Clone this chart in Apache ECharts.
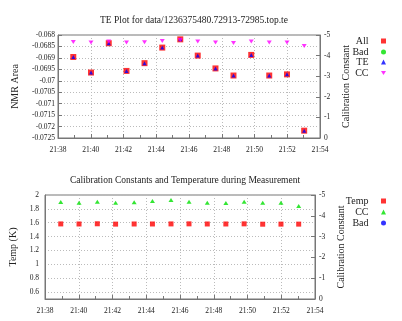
<!DOCTYPE html>
<html>
<head>
<meta charset="utf-8">
<script src="https://cdn.jsdelivr.net/npm/echarts@6/dist/echarts.min.js"></script>
<style>
html, body { margin: 0; padding: 0; background: #fff; }
#chart { width: 402px; height: 321px; }
</style>
</head>
<body>
<div id="chart"></div>
<script>
// measurement times
var times = ['21:38:56', '21:40:01', '21:41:06', '21:42:11', '21:43:17', '21:44:22', '21:45:28',
             '21:46:32', '21:47:37', '21:48:43', '21:49:48', '21:50:54', '21:51:59', '21:53:02'];
// NMR area (All and TE are the same points)
var nmrArea = [-0.06896, -0.06964, -0.06836, -0.06957, -0.06923, -0.06855, -0.06819,
               -0.0689, -0.06946, -0.06977, -0.06887, -0.06977, -0.06972, -0.07218];
// calibration constant
var calConst = [-4.66, -4.63, -4.68, -4.63, -4.65, -4.71, -4.76,
                -4.68, -4.63, -4.61, -4.68, -4.63, -4.63, -4.47];
// temperature (K)
var temp = [1.583, 1.582, 1.585, 1.580, 1.582, 1.582, 1.583,
            1.584, 1.582, 1.582, 1.584, 1.579, 1.580, 1.580];
var badPoints = [];

var xTicks = {min: '21:38', max: '21:54', step: 2};

function toMin(s) {
    var p = s.split(':');
    return (+p[0]) * 60 + (+p[1]) + (p.length > 2 ? (+p[2]) / 60 : 0);
}
function fmtTime(v) {
    var h = Math.floor(v / 60), m = Math.round(v - h * 60);
    return h + ':' + (m < 10 ? '0' + m : m);
}
function pairs(vals) {
    return vals.map(function (v, i) { return [toMin(times[i]), v]; });
}

var serif = 'Liberation Serif';
var lineCol = '#777';
var textCol = '#222';
var gridLine = {show: true, lineStyle: {color: '#bbb', type: [1, 2], width: 1}};
var downTri = 'path://M0,0L10,0L5,8Z';

function xAxis(gi) {
    return {
        type: 'value', gridIndex: gi,
        min: toMin(xTicks.min), max: toMin(xTicks.max), interval: xTicks.step,
        axisLine: {show: true, onZero: false, lineStyle: {color: lineCol}},
        axisTick: {inside: true, length: 4, lineStyle: {color: lineCol}},
        minorTick: {show: true, splitNumber: 2, length: 3, lineStyle: {color: lineCol}},
        axisLabel: {formatter: fmtTime, color: textCol, fontFamily: serif, fontSize: 7.5, margin: 8},
        splitLine: gridLine
    };
}
function rightAxis(gi) {
    return {
        type: 'value', gridIndex: gi, position: 'right',
        min: -5, max: 0, interval: 1, inverse: true,
        name: 'Calibration Constant', nameLocation: 'middle', nameRotate: 90, nameGap: 18,
        nameTextStyle: {color: textCol, fontFamily: serif, fontSize: 10},
        axisLine: {show: true, lineStyle: {color: lineCol}},
        axisTick: {inside: true, length: 4, lineStyle: {color: lineCol}},
        axisLabel: {color: textCol, fontFamily: serif, fontSize: 7.5, margin: 4},
        splitLine: {show: false}
    };
}
function legendItem(name, top, icon) {
    var item = {name: name};
    if (icon) item.icon = icon;
    return {
        data: [item], orient: 'vertical', right: 11, top: top, align: 'right',
        itemWidth: 5, itemHeight: 5, selectedMode: false,
        formatter: function (n) { return n.trim() + '   '; },
        textStyle: {color: textCol, fontFamily: serif, fontSize: 10}
    };
}

var dom = document.getElementById('chart');
var myChart = echarts.init(dom, null, {renderer: 'canvas'});
var option = {
    animation: false,
    backgroundColor: '#fff',
    title: [
        {text: 'TE Plot for data/1236375480.72913-72985.top.te', left: 189, top: 10, textAlign: 'center',
         textStyle: {color: textCol, fontFamily: serif, fontSize: 9.5, fontWeight: 'normal'}},
        {text: 'Calibration Constants and Temperature during Measurement', left: 180, top: 170, textAlign: 'center',
         textStyle: {color: textCol, fontFamily: serif, fontSize: 9.5, fontWeight: 'normal'}}
    ],
    grid: [
        {left: 58, right: 82, top: 35, height: 103, show: true, borderColor: lineCol, borderWidth: 1, backgroundColor: 'transparent'},
        {left: 45, right: 87, top: 195, height: 104, show: true, borderColor: lineCol, borderWidth: 1, backgroundColor: 'transparent'}
    ],
    legend: [
        legendItem('All', 31), legendItem('Bad', 42), legendItem('TE', 52), legendItem('CC', 63, downTri),
        legendItem('Temp', 191), legendItem('CC ', 202), legendItem('Bad ', 213)
    ],
    xAxis: [xAxis(0), xAxis(1)],
    yAxis: [
        {
            type: 'value', gridIndex: 0, min: -0.0725, max: -0.068, interval: 0.0005,
            name: 'NMR Area', nameLocation: 'middle', nameRotate: 90, nameGap: 38,
            nameTextStyle: {color: textCol, fontFamily: serif, fontSize: 10},
            axisLine: {show: true, lineStyle: {color: lineCol}},
            axisTick: {inside: true, length: 4, lineStyle: {color: lineCol}},
            axisLabel: {color: textCol, fontFamily: serif, fontSize: 7.5, margin: 3},
            splitLine: gridLine
        },
        rightAxis(0),
        {
            type: 'value', gridIndex: 1, min: 0.5, max: 2, interval: 0.1,
            name: 'Temp (K)', nameLocation: 'middle', nameRotate: 90, nameGap: 26,
            nameTextStyle: {color: textCol, fontFamily: serif, fontSize: 10},
            axisLine: {show: true, lineStyle: {color: lineCol}},
            axisTick: {show: false},
            axisLabel: {color: textCol, fontFamily: serif, fontSize: 7.5, margin: 6,
                formatter: function (v) {
                    var t = Math.round(v * 10);
                    return t % 2 === 0 ? String(t / 10) : '';
                }},
            splitLine: {show: true, lineStyle: {color: ['transparent', '#bbb'], type: [1, 2], width: 1}}
        },
        rightAxis(1)
    ],
    series: [
        {name: 'All', type: 'scatter', xAxisIndex: 0, yAxisIndex: 0, data: pairs(nmrArea),
         symbol: 'rect', symbolSize: 6, itemStyle: {color: '#ff0000'}, z: 2},
        {name: 'Bad', type: 'scatter', xAxisIndex: 0, yAxisIndex: 0, data: badPoints,
         symbol: 'circle', symbolSize: 5, itemStyle: {color: '#00e000'}},
        {name: 'TE', type: 'scatter', xAxisIndex: 0, yAxisIndex: 0, data: pairs(nmrArea),
         symbol: 'triangle', symbolSize: 4, itemStyle: {color: '#0000ff'}, z: 3},
        {name: 'CC', type: 'scatter', xAxisIndex: 0, yAxisIndex: 1, data: pairs(calConst),
         symbol: 'triangle', symbolRotate: 180, symbolSize: [5, 4], itemStyle: {color: '#ff00ff'}, z: 4},
        {name: 'Temp', type: 'scatter', xAxisIndex: 1, yAxisIndex: 2, data: pairs(temp),
         symbol: 'rect', symbolSize: 5, itemStyle: {color: '#ff0000'}},
        {name: 'CC ', type: 'scatter', xAxisIndex: 1, yAxisIndex: 3, data: pairs(calConst),
         symbol: 'triangle', symbolSize: [5, 4], itemStyle: {color: '#00e000'}},
        {name: 'Bad ', type: 'scatter', xAxisIndex: 1, yAxisIndex: 2, data: badPoints,
         symbol: 'circle', symbolSize: 5, itemStyle: {color: '#0000ff'}}
    ]
};
myChart.setOption(option);
</script>
</body>
</html>
